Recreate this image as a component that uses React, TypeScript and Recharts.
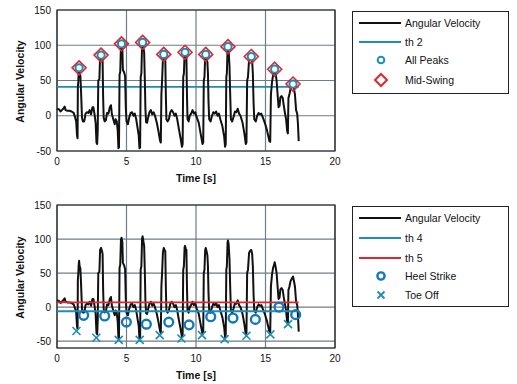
import * as React from 'react';
import { ComposedChart, Line, Scatter, XAxis, YAxis, CartesianGrid, ReferenceArea } from 'recharts';

const FONT = '"Liberation Sans", Arial, Helvetica, sans-serif';
const GRID = '#6f7d86';
const TEAL = '#1c8db5';
const BLUE = '#1478bf';
const RED = '#e1252f';

// [time s, angular velocity]
const angularVelocity: [number, number][] = [
  [0, 10], [0.15, 9], [0.25, 6], [0.35, 8], [0.45, 10], [0.55, 13], [0.62, 8], [0.75, 7], [0.9, 7], [1.05, 6],
  [1.2, 4], [1.3, -2], [1.38, -8], [1.44, -28], [1.48, -32], [1.5, 40], [1.53, 48], [1.56, 62], [1.59, 68], [1.63, 60],
  [1.68, 57], [1.72, 40], [1.76, 18], [1.8, -3], [1.86, -8], [1.95, -8], [2.0, -4], [2.05, 3], [2.15, 5], [2.25, 4],
  [2.35, 8], [2.45, 2], [2.55, 12], [2.62, 12], [2.7, 2], [2.78, -10], [2.84, -38], [2.89, -40], [2.93, -20], [2.97, 50],
  [3.05, 52], [3.1, 84], [3.17, 87], [3.24, 82], [3.28, 78], [3.32, 25], [3.36, -3], [3.43, -8], [3.52, -6], [3.6, 4],
  [3.7, 3], [3.8, 12], [3.88, 15], [3.95, 2], [4.05, -5], [4.15, -12], [4.22, -5], [4.3, -8], [4.37, -22], [4.42, -46],
  [4.46, -45], [4.5, 58], [4.55, 62], [4.6, 99], [4.64, 102], [4.7, 96], [4.74, 65], [4.82, 62], [4.9, 56], [4.95, 12],
  [5.0, -8], [5.1, -12], [5.2, -2], [5.3, 4], [5.4, 5], [5.5, 0], [5.6, 3], [5.7, -5], [5.8, -18], [5.88, -28],
  [5.93, -46], [5.98, -45], [6.02, 55], [6.07, 60], [6.12, 100], [6.16, 104], [6.22, 96], [6.27, 90], [6.32, 50], [6.36, 10],
  [6.41, -9], [6.48, -10], [6.55, -3], [6.65, 5], [6.75, 8], [6.85, 2], [6.95, 5], [7.05, 0], [7.18, -10], [7.3, -22],
  [7.42, -36], [7.47, -38], [7.51, 30], [7.56, 50], [7.62, 80], [7.68, 87], [7.74, 84], [7.79, 82], [7.83, 30], [7.87, -5],
  [7.95, -8], [8.05, -5], [8.15, 5], [8.25, 8], [8.35, 5], [8.45, 0], [8.55, 3], [8.65, -5], [8.78, -20], [8.9, -33],
  [8.99, -44], [9.04, -40], [9.08, 55], [9.13, 60], [9.18, 88], [9.21, 90], [9.26, 86], [9.31, 84], [9.35, 30], [9.39, -5],
  [9.47, -8], [9.55, 0], [9.65, 3], [9.75, 8], [9.85, 3], [9.95, 5], [10.05, -2], [10.2, -10], [10.33, -25], [10.47, -40],
  [10.52, -38], [10.56, 50], [10.61, 55], [10.66, 84], [10.7, 87], [10.76, 82], [10.82, 76], [10.86, 60], [10.9, 20], [10.95, -5],
  [11.05, -8], [11.15, 0], [11.25, 5], [11.35, 3], [11.45, 6], [11.55, 0], [11.65, 3], [11.75, -5], [11.9, -15], [12.03, -30],
  [12.09, -44], [12.14, -40], [12.18, 55], [12.22, 60], [12.27, 95], [12.3, 98], [12.35, 92], [12.41, 70], [12.46, 30], [12.51, -5],
  [12.6, -8], [12.7, -2], [12.8, 6], [12.9, 5], [13.0, 10], [13.1, 3], [13.2, 0], [13.35, -10], [13.48, -25], [13.58, -40],
  [13.63, -38], [13.68, 50], [13.74, 55], [13.82, 80], [13.9, 83], [13.98, 84], [14.04, 78], [14.09, 60], [14.14, 20], [14.19, -5],
  [14.3, -8], [14.4, 0], [14.5, 4], [14.6, 2], [14.7, 3], [14.8, -2], [14.95, -10], [15.1, -20], [15.28, -36], [15.34, -37],
  [15.39, 30], [15.47, 48], [15.55, 58], [15.62, 62], [15.66, 66], [15.72, 60], [15.8, 50], [15.87, 30], [15.94, 12], [16.01, 14],
  [16.07, 26], [16.15, 28], [16.24, 25], [16.31, 15], [16.39, 5], [16.48, -5], [16.56, -22], [16.61, -25], [16.65, 25], [16.72, 30],
  [16.8, 38], [16.9, 42], [16.98, 45], [17.05, 38], [17.12, 30], [17.2, 8], [17.28, 3], [17.33, -10], [17.39, -36],
];

const peakTimes = [1.59, 3.17, 4.64, 6.16, 7.68, 9.21, 10.7, 12.3, 13.98, 15.66, 16.98];
const peakValues = [68, 86, 102, 104, 87, 90, 87, 98, 84, 66, 45];

const heelTimes = [1.92, 3.43, 4.99, 6.43, 8.04, 9.5, 11.06, 12.66, 14.27, 15.97, 17.17];
const heelValues = [-12, -13, -22, -25, -22, -26, -14, -16, -18, 0, -11];

const toeTimes = [1.4, 2.83, 4.44, 5.95, 7.39, 8.95, 10.43, 12.06, 13.63, 15.35, 16.62];
const toeValues = [-35, -45, -48, -48, -41, -46, -41, -47, -42, -40, -25];

const th2 = 41;
const th4 = -6;
const th5 = 7;
const thresholdSpan = [0, 17.39];

const xTicks = [0, 5, 10, 15, 20];
const yTicks = [-50, 0, 50, 100, 150];

const signal = angularVelocity.map(([t, v]) => ({ t, v }));
const peaks = peakTimes.map((t, i) => ({ t, v: peakValues[i] }));
const heelStrikes = heelTimes.map((t, i) => ({ t, v: heelValues[i] }));
const toeOffs = toeTimes.map((t, i) => ({ t, v: toeValues[i] }));
const level = (v: number) => thresholdSpan.map((t) => ({ t, v }));

const MidSwingShape = ({ cx, cy }: any) => (
  <path d={`M${cx},${cy - 7}L${cx + 7},${cy}L${cx},${cy + 7}L${cx - 7},${cy}Z`} fill="none" stroke={RED} strokeWidth={1.6} />
);
const PeakShape = ({ cx, cy }: any) => <circle cx={cx} cy={cy} r={3.6} fill="#fff" stroke={TEAL} strokeWidth={2} />;
const HeelShape = ({ cx, cy }: any) => <circle cx={cx} cy={cy} r={4.4} fill="none" stroke={BLUE} strokeWidth={2.4} />;
const ToeShape = ({ cx, cy }: any) => (
  <path d={`M${cx - 4},${cy - 4}L${cx + 4},${cy + 4}M${cx - 4},${cy + 4}L${cx + 4},${cy - 4}`} stroke={TEAL} strokeWidth={1.6} />
);

const tickStyle = { fill: '#111', fontSize: 10, fontFamily: FONT };

const timeTitle = (props: any) => {
  const { x, y, width } = props.viewBox;
  return (
    <text x={x + width / 2} y={y + 31} textAnchor="middle" fontFamily={FONT} fontSize={10.5} fontWeight="bold" fill="#111">
      Time [s]
    </text>
  );
};

const velocityTitle = (props: any) => {
  const { y, height } = props.viewBox;
  const cx = 24;
  const cy = y + height / 2 + 1;
  return (
    <text x={cx} y={cy} transform={`rotate(-90 ${cx} ${cy})`} textAnchor="middle" fontFamily={FONT} fontSize={10.5} fontWeight="bold" fill="#111">
      Angular Velocity
    </text>
  );
};

function Axes({ domain }: { domain: [number, number] }) {
  return (
    <>
      <CartesianGrid stroke={GRID} strokeWidth={1.2} />
      <XAxis
        type="number"
        dataKey="t"
        domain={[0, 20]}
        ticks={xTicks}
        height={30}
        tickSize={0}
        tickMargin={7}
        axisLine={false}
        tick={tickStyle}
        label={{ content: timeTitle }}
      />
      <YAxis
        type="number"
        dataKey="v"
        domain={domain}
        ticks={yTicks}
        width={57}
        tickSize={0}
        tickMargin={6}
        axisLine={false}
        tick={tickStyle}
        label={{ content: velocityTitle }}
      />
    </>
  );
}

type Row = { label: string; kind: 'line' | 'dot' | 'diamond' | 'ring' | 'x'; color: string; y: number };

function LegendBox({ top, height, rows }: { top: number; height: number; rows: Row[] }) {
  return (
    <div style={{ position: 'absolute', left: 352, top, width: 157, height, border: '1.2px solid #222', boxSizing: 'border-box' }}>
      {rows.map((r) => (
        <div key={r.label} style={{ position: 'absolute', left: 0, top: r.y - 8, height: 16, width: 155 }}>
          <svg width={50} height={16} style={{ position: 'absolute', left: 0, top: 0 }}>
            {r.kind === 'line' && <line x1={6} x2={48} y1={8} y2={8} stroke={r.color} strokeWidth={2} />}
            {r.kind === 'dot' && <circle cx={28} cy={8} r={3.3} fill="none" stroke={r.color} strokeWidth={2} />}
            {r.kind === 'ring' && <circle cx={28} cy={8} r={3.6} fill="none" stroke={r.color} strokeWidth={2.4} />}
            {r.kind === 'diamond' && <path d="M28,2L34,8L28,14L22,8Z" fill="none" stroke={r.color} strokeWidth={2} />}
            {r.kind === 'x' && <path d="M24.5,4.5L31.5,11.5M24.5,11.5L31.5,4.5" stroke={r.color} strokeWidth={1.8} />}
          </svg>
          <span style={{ position: 'absolute', left: 52, top: 0, lineHeight: '16px', fontFamily: FONT, fontSize: 10.5, color: '#111', whiteSpace: 'nowrap' }}>
            {r.label}
          </span>
        </div>
      ))}
    </div>
  );
}

export default function App() {
  return (
    <div style={{ position: 'absolute', left: 0, top: 0, width: 517, height: 384, background: '#fff', overflow: 'hidden' }}>
      <div style={{ position: 'absolute', left: 0, top: 0 }}>
        <ComposedChart width={517} height={192} margin={{ top: 10, right: 182, bottom: 11, left: 0 }}>
          <Axes domain={[-50, 150]} />
          <ReferenceArea x1={0} x2={20} y1={-50} y2={150} fill="none" stroke="#222" strokeWidth={1.2} />
          <Line data={level(th2)} dataKey="v" stroke={TEAL} strokeWidth={1.8} dot={false} isAnimationActive={false} />
          <Line data={signal} dataKey="v" stroke="#111" strokeWidth={2} dot={false} strokeLinejoin="round" isAnimationActive={false} />
          <Scatter data={peaks} dataKey="v" shape={MidSwingShape} isAnimationActive={false} />
          <Scatter data={peaks} dataKey="v" shape={PeakShape} isAnimationActive={false} />
        </ComposedChart>
      </div>
      <div style={{ position: 'absolute', left: 0, top: 192 }}>
        <ComposedChart width={517} height={192} margin={{ top: 13, right: 182, bottom: 6, left: 0 }}>
          <Axes domain={[-60, 150]} />
          <ReferenceArea x1={0} x2={20} y1={-60} y2={150} fill="none" stroke="#222" strokeWidth={1.2} />
          <Line data={signal} dataKey="v" stroke="#111" strokeWidth={2} dot={false} strokeLinejoin="round" isAnimationActive={false} />
          <Line data={level(th5)} dataKey="v" stroke={RED} strokeWidth={1.8} dot={false} isAnimationActive={false} />
          <Line data={level(th4)} dataKey="v" stroke={TEAL} strokeWidth={1.8} dot={false} isAnimationActive={false} />
          <Scatter data={heelStrikes} dataKey="v" shape={HeelShape} isAnimationActive={false} />
          <Scatter data={toeOffs} dataKey="v" shape={ToeShape} isAnimationActive={false} />
        </ComposedChart>
      </div>
      <LegendBox
        top={11}
        height={83}
        rows={[
          { label: 'Angular Velocity', kind: 'line', color: '#111', y: 11 },
          { label: 'th 2', kind: 'line', color: TEAL, y: 30 },
          { label: 'All Peaks', kind: 'dot', color: TEAL, y: 48 },
          { label: 'Mid-Swing', kind: 'diamond', color: RED, y: 68 },
        ]}
      />
      <LegendBox
        top={206}
        height={101}
        rows={[
          { label: 'Angular Velocity', kind: 'line', color: '#111', y: 11 },
          { label: 'th 4', kind: 'line', color: TEAL, y: 31 },
          { label: 'th 5', kind: 'line', color: RED, y: 51 },
          { label: 'Heel Strike', kind: 'ring', color: BLUE, y: 69 },
          { label: 'Toe Off', kind: 'x', color: TEAL, y: 88 },
        ]}
      />
    </div>
  );
}
